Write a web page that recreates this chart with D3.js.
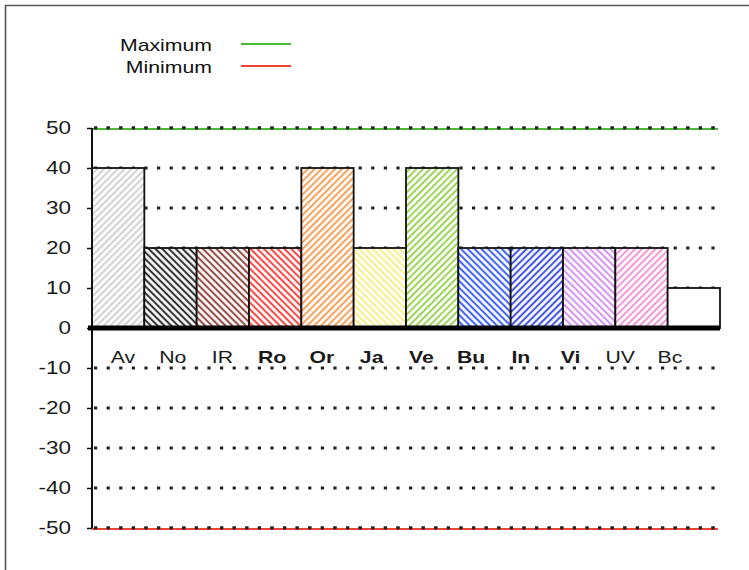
<!DOCTYPE html>
<html>
<head>
<meta charset="utf-8">
<script src="https://cdn.jsdelivr.net/npm/d3@7"></script>
<style>
  html, body { margin: 0; padding: 0; background: #fff; }
  svg { display: block; font-family: "Liberation Sans", Arial, Helvetica, sans-serif; }
</style>
</head>
<body>
<svg id="chart" width="749" height="570"></svg>
<script>
const categories = ["Av", "No", "IR", "Ro", "Or", "Ja", "Ve", "Bu", "In", "Vi", "UV", "Bc"];
const values = [40, 20, 20, 20, 40, 20, 40, 20, 20, 20, 20, 10];
const boldLabels = ["Ro", "Or", "Ja", "Ve", "Bu", "In", "Vi"];
const hatchColors = ["#cfcfcf", "#1e1e1e", "#8a3b32", "#ee3b34", "#f59a4c", "#f8ee80", "#94cf4a", "#2f55f0", "#3345dc", "#cf8cf2", "#ef8fd0", null];
const hatchAngles = [45, -45, -45, -45, 45, -45, 45, -45, 45, -45, 45, 0];
const yTicks = [50, 40, 30, 20, 10, 0, -10, -20, -30, -40, -50];
const maximum = 50;
const minimum = -50;
const legendItems = [
  { label: "Maximum", value: maximum, color: "#4db83a" },
  { label: "Minimum", value: minimum, color: "#ee4433" }
];

const SX = 1.25; // horizontal stretch of the text in the reference
const svg = d3.select("#chart");
const y = d3.scaleLinear().domain([-50, 50]).range([528, 128]);
const x = d3.scaleBand().domain(categories).range([92, 720]).padding(0);
const xLabel = d3.scalePoint().domain(categories).range([123, 670]);

// frame
svg.append("path").attr("d", "M5.5,570 L5.5,5.5 L749,5.5")
  .attr("fill", "none").attr("stroke", "#555").attr("stroke-width", 1.6);

// patterns
const defs = svg.append("defs");
const ps = 4.8;
categories.forEach((c, i) => {
  if (!hatchColors[i]) return;
  const p = defs.append("pattern")
    .attr("id", "hatch-" + c)
    .attr("patternUnits", "userSpaceOnUse")
    .attr("width", ps).attr("height", ps)
    .attr("patternTransform", `rotate(${hatchAngles[i]})`);
  p.append("rect").attr("width", ps).attr("height", ps).attr("fill", "#fff");
  p.append("line").attr("x1", 1.2).attr("x2", 1.2).attr("y1", 0).attr("y2", ps)
    .attr("stroke", hatchColors[i]).attr("stroke-width", 1.9);
});

// gridlines
svg.append("g").selectAll("line").data(yTicks.filter(d => d !== 0)).join("line")
  .attr("x1", 94).attr("x2", 720)
  .attr("y1", d => y(d)).attr("y2", d => y(d))
  .attr("stroke", "#222").attr("stroke-width", 2.8)
  .attr("stroke-dasharray", "3.2,9.4");

// bars
svg.append("g").selectAll("rect").data(categories).join("rect")
  .attr("x", d => x(d))
  .attr("y", (d, i) => y(values[i]))
  .attr("width", x.bandwidth())
  .attr("height", (d, i) => y(0) - y(values[i]))
  .attr("fill", (d, i) => hatchColors[i] ? `url(#hatch-${d})` : "#fff")
  .attr("stroke", "#111").attr("stroke-width", 1.8);

// max / min lines
svg.append("g").selectAll("line").data(legendItems).join("line")
  .attr("x1", 92).attr("x2", 718)
  .attr("y1", d => y(d.value) + 1).attr("y2", d => y(d.value) + 1)
  .attr("stroke", d => d.color).attr("stroke-width", 2);
// dots over max/min
svg.append("g").selectAll("line").data(legendItems).join("line")
  .attr("x1", 94).attr("x2", 720)
  .attr("y1", d => y(d.value)).attr("y2", d => y(d.value))
  .attr("stroke", "#222").attr("stroke-width", 2.8)
  .attr("stroke-dasharray", "3.2,9.4");

// y axis
const yAxis = d3.axisLeft(y).tickValues(yTicks).tickSize(5).tickPadding(17).tickFormat(d => String(d));
const ga = svg.append("g").attr("transform", "translate(92,0)").call(yAxis);
ga.select(".domain").attr("stroke", "#111").attr("stroke-width", 2).attr("d", `M0,${y(50)}V${y(-50)}`);
ga.selectAll(".tick line").attr("stroke", "#111").attr("stroke-width", 1.5);
ga.selectAll(".tick text").attr("font-size", 18).attr("fill", "#1a1a1a")
  .attr("font-family", "Liberation Sans, Arial, sans-serif")
  .attr("x", -21 / SX)
  .attr("transform", `scale(${SX},1)`);

// zero line
svg.append("line").attr("x1", 88).attr("x2", 720)
  .attr("y1", y(0)).attr("y2", y(0))
  .attr("stroke", "#000").attr("stroke-width", 5);

// category labels
svg.append("g").selectAll("text").data(categories).join("text")
  .attr("transform", d => `translate(${xLabel(d)},363) scale(${SX},1)`)
  .attr("text-anchor", "middle")
  .attr("font-size", 17)
  .attr("font-weight", d => boldLabels.includes(d) ? "bold" : "normal")
  .attr("fill", "#1a1a1a")
  .text(d => d);

// legend
const lg = svg.append("g").selectAll("g").data(legendItems).join("g")
  .attr("transform", (d, i) => `translate(0,${45 + i * 22})`);
lg.append("text")
  .attr("transform", `translate(212,0) scale(${SX},1)`)
  .attr("dy", "0.35em")
  .attr("text-anchor", "end").attr("font-size", 17).attr("fill", "#111")
  .text(d => d.label);
lg.append("line").attr("x1", 241).attr("x2", 291).attr("y1", -1).attr("y2", -1)
  .attr("stroke", d => d.color).attr("stroke-width", 2);
</script>
</body>
</html>
